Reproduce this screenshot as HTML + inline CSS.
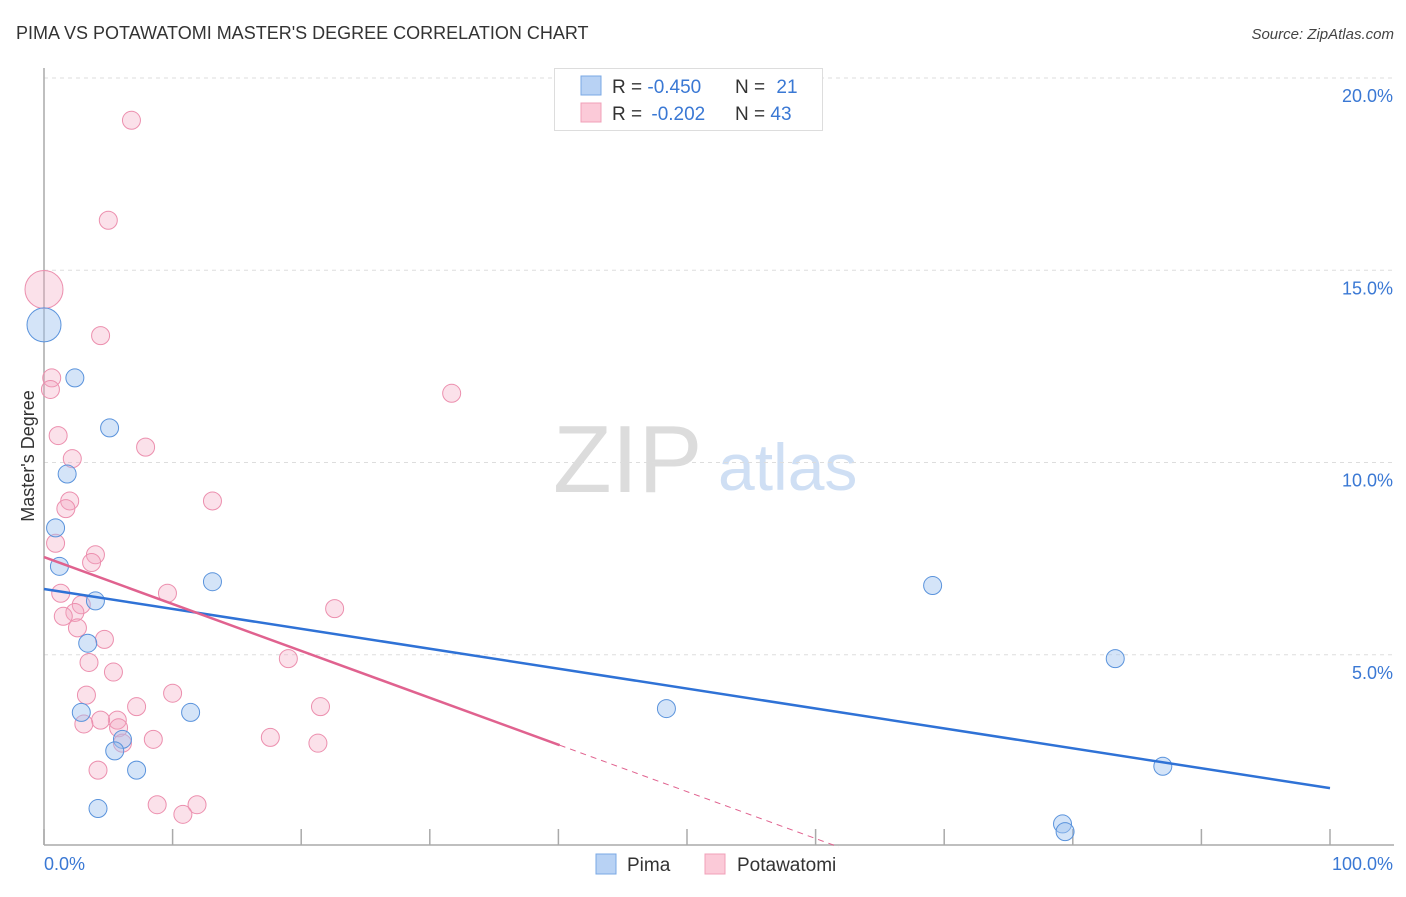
<!DOCTYPE html>
<html><head><meta charset="utf-8"><style>
body{margin:0;background:#fff;font-family:"Liberation Sans",sans-serif;}
svg text{font-family:"Liberation Sans",sans-serif;}
</style></head><body>
<svg width="1406" height="892" viewBox="0 0 1406 892" xmlns="http://www.w3.org/2000/svg">
<text x="16" y="39" font-size="18" fill="#333">PIMA VS POTAWATOMI MASTER'S DEGREE CORRELATION CHART</text>
<text x="1394" y="39" font-size="15" fill="#444" font-style="italic" text-anchor="end">Source: ZipAtlas.com</text>
<g>
<text x="553" y="492" font-size="96" font-family="Liberation Serif" fill="#dcdcdc">ZIP</text>
<text x="718" y="490" font-size="66" fill="#cfdff4">atlas</text>
</g>
<g id="grid"></g>
<g id="axes"></g>
<g id="marks"></g>
<g>
<rect x="554.5" y="68.5" width="268" height="62" fill="#fff" stroke="#ddd"/>
<rect x="581" y="76" width="20" height="19" fill="#b8d2f4" stroke="#7aa8e4"/>
<rect x="581" y="103" width="20" height="19" fill="#fbcad8" stroke="#f0a0b8"/>
<text x="612" y="93" font-size="19" fill="#333">R = <tspan fill="#3a78d4">-0.450</tspan></text>
<text x="735" y="93" font-size="19" fill="#333">N = <tspan fill="#3a78d4" dx="6">21</tspan></text>
<text x="612" y="120" font-size="19" fill="#333">R = <tspan fill="#3a78d4" dx="4">-0.202</tspan></text>
<text x="735" y="120" font-size="19" fill="#333">N = <tspan fill="#3a78d4">43</tspan></text>
</g>
<g>
<rect x="596" y="854" width="20" height="20" fill="#b8d2f4" stroke="#7aa8e4"/>
<text x="627" y="871" font-size="19" fill="#333">Pima</text>
<rect x="705" y="854" width="20" height="20" fill="#fbcad8" stroke="#f0a0b8"/>
<text x="737" y="871" font-size="19" fill="#333">Potawatomi</text>
</g>
</svg>
<script>
const yTicks=[5,10,15,20];
const xTickLabels=["0.0%","100.0%"];
const pimaX=[0,2.4,5.1,1.8,0.9,1.2,4.0,13.1,3.4,2.9,11.4,6.1,5.5,7.2,4.2,69.1,83.3,48.4,87.0,79.2,79.4];
const pimaY=[13.58,12.2,10.9,9.7,8.3,7.3,6.4,6.9,5.3,3.5,3.5,2.8,2.5,2.0,1.0,6.8,4.9,3.6,2.1,0.6,0.4];
const potX=[0,6.8,5.0,4.4,0.6,0.5,31.7,1.1,7.9,2.2,2.0,1.7,13.1,0.9,4.0,3.7,9.6,1.3,2.9,2.4,1.5,22.6,2.6,4.7,3.5,19.0,5.4,3.3,10.0,7.2,21.5,5.7,4.4,3.1,5.8,6.1,8.5,17.6,21.3,4.2,8.8,11.9,10.8];
const potY=[14.5,18.9,16.3,13.3,12.2,11.9,11.8,10.7,10.4,10.1,9.0,8.8,9.0,7.9,7.6,7.4,6.6,6.6,6.3,6.1,6.0,6.2,5.7,5.4,4.8,4.9,4.55,3.95,4.0,3.65,3.65,3.3,3.3,3.2,3.1,2.7,2.8,2.85,2.7,2.0,1.1,1.1,0.85];
const pimaTrend=[6.71,1.53];
const potTrend=[7.54,-0.122];
const potSolidEnd=40.1;

const NS="http://www.w3.org/2000/svg";
const X0=44,X1=1330,Y0=847,Y20=78;
const sx=v=>X0+(X1-X0)*v/100;
const sy=v=>Y0-(Y0-Y20)*v/20;
function mk(tag,attrs,parent){const e=document.createElementNS(NS,tag);for(const k in attrs)e.setAttribute(k,attrs[k]);parent.appendChild(e);return e;}
const grid=document.getElementById('grid'),axes=document.getElementById('axes'),marks=document.getElementById('marks');
yTicks.forEach(t=>{
  const l=mk('line',{x1:X0,x2:1395,y1:sy(t),y2:sy(t),stroke:'#ddd','stroke-dasharray':'4,4'},grid);
  
  
  const tx=mk('text',{x:1393,y:sy(t)+24,'font-size':18,fill:'#3a78d4','text-anchor':'end'},axes);
  tx.textContent=t.toFixed(1)+'%';
  
  
});
const ya=mk('line',{x1:X0,x2:X0,y1:68,y2:845,stroke:'#aaa','stroke-width':1.5},axes);


const xa=mk('line',{x1:X0,x2:1394,y1:845,y2:845,stroke:'#aaa','stroke-width':1.5},axes);


for(let i=0;i<=10;i++){
  const tk=mk('line',{x1:sx(i*10),x2:sx(i*10),y1:829,y2:845,stroke:'#aaa','stroke-width':1.5},axes);
  
  
}
const xl0=mk('text',{x:X0,y:870,'font-size':18,fill:'#3a78d4'},axes);xl0.textContent=xTickLabels[0];


const xl1=mk('text',{x:1393,y:870,'font-size':18,fill:'#3a78d4','text-anchor':'end'},axes);xl1.textContent=xTickLabels[1];


const yt=mk('text',{x:0,y:0,'font-size':18,fill:'#333','text-anchor':'middle',transform:'translate(34,456) rotate(-90)'},axes);yt.textContent="Master's Degree";



potX.forEach((x,i)=>{
  const c=mk('circle',{cx:sx(x),cy:sy(potY[i]),r:i===0?19:9,fill:'rgba(244,170,195,0.35)',stroke:'#ec8fae','stroke-width':1},marks);
  
  
});
pimaX.forEach((x,i)=>{
  const c=mk('circle',{cx:sx(x),cy:sy(pimaY[i]),r:i===0?17:9,fill:'rgba(160,195,240,0.45)',stroke:'#5a93dc','stroke-width':1},marks);
  
  
});
const pl=mk('line',{x1:sx(0),y1:sy(pimaTrend[0]),x2:sx(100),y2:sy(pimaTrend[1]),stroke:'#2f72d6','stroke-width':2.5},marks);


const pe=potSolidEnd, pz=-potTrend[0]/potTrend[1];
const tl=mk('line',{x1:sx(0),y1:sy(potTrend[0]),x2:sx(pe),y2:sy(potTrend[0]+potTrend[1]*pe),stroke:'#e0628f','stroke-width':2.5},marks);


const td=mk('line',{x1:sx(pe),y1:sy(potTrend[0]+potTrend[1]*pe),x2:sx(pz),y2:sy(0),stroke:'#e0628f','stroke-width':1,'stroke-dasharray':'6,5'},marks);


</script>
</body></html>
